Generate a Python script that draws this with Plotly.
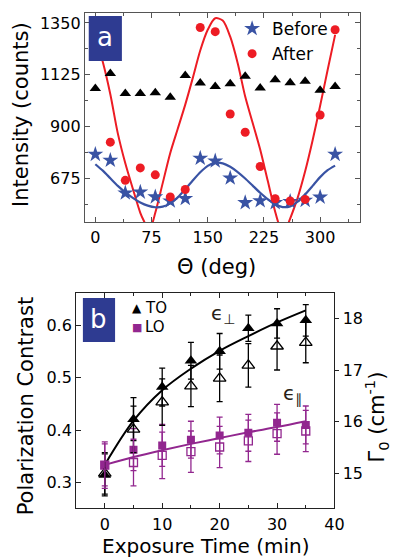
import plotly.graph_objects as go

# ---------------- Panel a data ----------------
theta = [0, 20, 40, 60, 80, 100, 120, 140, 160, 180, 200, 220, 240, 260, 280, 300, 320]
before = [779, 753, 611, 615, 594, 576, 587, 762, 750, 676, 569, 577, 569, 574, 579, 593, 779]
theta_after = [20, 40, 60, 80, 100, 120, 140, 160, 180, 200, 220, 240, 260, 280, 300, 320]
after = [832, 666, 720, 690, 594, 626, 1330, 1312, 954, 875, 726, 586, 576, 583, 950, 1320]
reference_tri = [1065, 1130, 1043, 1043, 1047, 1027, 1121, 1089, 1074, 1086, 1118, 1067, 1103, 1090, 1096, 1057, 1074]

red_fit_theta = [0, 10, 20, 30, 40, 50, 60, 65, 70, 75, 80, 90, 100, 110, 120, 130, 140, 150, 160,
                 170, 180, 190, 200, 210, 220, 230, 240, 245, 250, 255, 260, 270, 280, 290, 300, 310, 320]
red_fit_vals = [1290, 1180, 1040, 870, 740, 630, 525, 488, 458, 472, 525, 655, 785, 890, 995, 1110, 1230, 1320, 1370,
                1360, 1290, 1175, 1030, 915, 800, 665, 530, 475, 445, 460, 500, 590, 705, 840, 990, 1145, 1298]
blue_fit_theta = [0, 10, 20, 30, 40, 50, 60, 70, 80, 90, 100, 110, 120, 130, 140, 150, 160, 170, 180,
                  190, 200, 210, 220, 230, 240, 250, 260, 270, 280, 290, 300, 310, 320]
blue_fit_vals = [736, 708, 675, 642, 614, 590, 570, 556, 549, 552, 566, 592, 627, 665, 701, 729, 742, 740, 725,
                 702, 674, 643, 612, 584, 562, 550, 553, 573, 605, 642, 680, 710, 730]
a_xticks = [0, 75, 150, 225, 300]
a_yticks = [675, 900, 1125, 1350]

# ---------------- Panel b data ----------------
t = [0, 5, 10, 15, 20, 25, 30, 35]
to_contrast = [0.315, 0.421, 0.482, 0.532, 0.550, 0.594, 0.603, 0.609]
to_contrast_err = [0.04, 0.041, 0.036, 0.035, 0.034, 0.025, 0.028, 0.030]
to_gamma = [15.0, 15.85, 16.38, 16.69, 16.84, 17.09, 17.46, 17.53]
to_gamma_err = [0.4, 0.45, 0.45, 0.4, 0.45, 0.42, 0.46, 0.39]
lo_contrast = [0.334, 0.363, 0.371, 0.382, 0.390, 0.395, 0.414, 0.410]
lo_contrast_err = [0.04, 0.04, 0.04, 0.035, 0.035, 0.035, 0.035, 0.036]
lo_gamma = [15.16, 15.21, 15.35, 15.42, 15.51, 15.63, 15.77, 15.82]
lo_gamma_err = [0.45, 0.45, 0.45, 0.4, 0.4, 0.4, 0.4, 0.4]
to_fit = [0.334, 0.418, 0.476, 0.517, 0.551, 0.579, 0.605, 0.628]
lo_fit = [0.334, 0.349, 0.362, 0.374, 0.385, 0.396, 0.406, 0.417]
b_yticks_left = [0.3, 0.4, 0.5, 0.6]
b_yticks_right = [15, 16, 17, 18]

# ---------------- styling ----------------
FONT = "DejaVu Sans"
RED = "#ED1C24"
BLUE = "#3953A4"
PURPLE = "#92278F"
NAVY = "#2E3B91"
W, H = 403, 558


def px(x):
    return x / W


def py(y):
    return 1 - y / H


fig = go.Figure()

# panel a
fig.add_trace(go.Scatter(x=red_fit_theta, y=red_fit_vals, mode="lines",
                         line=dict(color=RED, width=2, shape="spline", smoothing=0.8),
                         showlegend=False, xaxis="x", yaxis="y"))
fig.add_trace(go.Scatter(x=blue_fit_theta, y=blue_fit_vals, mode="lines",
                         line=dict(color=BLUE, width=2.2, shape="spline", smoothing=0.6),
                         showlegend=False, xaxis="x", yaxis="y"))
fig.add_trace(go.Scatter(x=theta, y=reference_tri, mode="markers",
                         marker=dict(symbol="triangle-up", size=10, color="black"),
                         showlegend=False, xaxis="x", yaxis="y"))
fig.add_trace(go.Scatter(x=theta, y=before, mode="markers", name="Before",
                         marker=dict(symbol="star", size=12, color=BLUE),
                         xaxis="x", yaxis="y", legend="legend"))
fig.add_trace(go.Scatter(x=theta_after, y=after, mode="markers", name="After",
                         marker=dict(symbol="circle", size=9, color=RED),
                         xaxis="x", yaxis="y", legend="legend"))

# panel b
fig.add_trace(go.Scatter(x=t, y=to_fit, mode="lines", line=dict(color="black", width=2, shape="spline"),
                         showlegend=False, xaxis="x2", yaxis="y2"))
fig.add_trace(go.Scatter(x=t, y=lo_fit, mode="lines", line=dict(color=PURPLE, width=2, shape="spline"),
                         showlegend=False, xaxis="x2", yaxis="y2"))
fig.add_trace(go.Scatter(x=t, y=to_gamma, mode="markers",
                         marker=dict(symbol="triangle-up-open", size=11, color="black", line=dict(width=1.3)),
                         error_y=dict(type="data", array=to_gamma_err, color="black", thickness=1.3, width=3),
                         showlegend=False, xaxis="x2", yaxis="y3"))
fig.add_trace(go.Scatter(x=t, y=lo_gamma, mode="markers",
                         marker=dict(symbol="square-open", size=8, color=PURPLE, line=dict(width=1.3)),
                         error_y=dict(type="data", array=lo_gamma_err, color=PURPLE, thickness=1.3, width=3),
                         showlegend=False, xaxis="x2", yaxis="y3"))
fig.add_trace(go.Scatter(x=t, y=to_contrast, mode="markers", name="TO",
                         marker=dict(symbol="triangle-up", size=11, color="black"),
                         error_y=dict(type="data", array=to_contrast_err, color="black", thickness=1.3, width=3),
                         showlegend=False, xaxis="x2", yaxis="y2"))
fig.add_trace(go.Scatter(x=t, y=lo_contrast, mode="markers", name="LO",
                         marker=dict(symbol="square", size=8, color=PURPLE),
                         error_y=dict(type="data", array=lo_contrast_err, color=PURPLE, thickness=1.3, width=3),
                         showlegend=False, xaxis="x2", yaxis="y2"))

tickfont = dict(family=FONT, size=16, color="black")
common = dict(showgrid=False, zeroline=False, showline=True, linewidth=1, tickfont=tickfont,
              ticks="inside", ticklen=5, tickwidth=1)

fig.update_layout(
    width=W, height=H, autosize=False,
    margin=dict(l=0, r=0, t=0, b=0),
    paper_bgcolor="white", plot_bgcolor="white",
    font=dict(family=FONT, color="black"),
    xaxis=dict(domain=[px(87), px(369)], range=[-14, 353], anchor="y", tickvals=a_xticks,
               mirror="ticks", linecolor="#555", tickcolor="#555", ticklabelstandoff=1,
               minor=dict(tickvals=[37.5, 112.5, 187.5, 262.5, 337.5], ticks="inside", ticklen=3, tickcolor="#555"),
               **common),
    yaxis=dict(domain=[py(222), py(13)], range=[485, 1393], anchor="x", tickvals=a_yticks,
               mirror="ticks", linecolor="#555", tickcolor="#555",
               minor=dict(tickvals=[562.5, 787.5, 1012.5, 1237.5], ticks="inside", ticklen=3, tickcolor="#555"),
               **common),
    xaxis2=dict(domain=[px(78), px(343)], range=[-5, 40], anchor="y2", tickvals=[0, 10, 20, 30, 40],
                mirror="ticks", linecolor="#222", tickcolor="#222", ticklabelstandoff=2,
                minor=dict(tickvals=[5, 15, 25, 35], ticks="inside", ticklen=3, tickcolor="#222"),
                **common),
    yaxis2=dict(domain=[py(508), py(293)], range=[0.252, 0.661], anchor="x2", tickvals=b_yticks_left,
                mirror=True, linecolor="#222", tickcolor="#222", **common),
    yaxis3=dict(range=[14.33, 18.49], overlaying="y2", side="right", anchor="x2", tickvals=b_yticks_right,
                showgrid=False, zeroline=False, showline=True, linecolor="#222", tickfont=tickfont,
                ticks="outside", ticklen=4, tickcolor="#222"),
    legend=dict(x=px(238), y=py(11), xanchor="left", yanchor="top", bgcolor="rgba(0,0,0,0)",
                font=dict(family=FONT, size=17, color="black"), itemwidth=30, tracegroupgap=0),
    showlegend=True,
)

# panel labels (boxes)
fig.add_shape(type="rect", xref="paper", yref="paper", x0=px(91), x1=px(125), y0=py(61), y1=py(16),
              fillcolor=NAVY, line=dict(width=0), layer="above")
fig.add_shape(type="rect", xref="paper", yref="paper", x0=px(85), x1=px(118), y0=py(342), y1=py(298),
              fillcolor=NAVY, line=dict(width=0), layer="above")

annotations = [
    dict(text="a", x=px(108), y=py(37), font=dict(size=26, color="white")),
    dict(text="b", x=px(101.5), y=py(319), font=dict(size=26, color="white")),
    dict(text="Intensity (counts)", x=px(22), y=py(114.5), textangle=-90, font=dict(size=21)),
    dict(text="Θ (deg)", x=px(222), y=py(267), font=dict(size=21)),
    dict(text="Polarization Contrast", x=px(27), y=py(406), textangle=-90, font=dict(size=21)),
    dict(text="Exposure Time (min)", x=px(211), y=py(546), font=dict(size=20)),
    dict(text="Γ<sub>0</sub> (cm<sup>-1</sup>)", x=px(386), y=py(417), textangle=-90, font=dict(size=21)),
    dict(text="ϵ<sub>⊥</sub>", x=px(229), y=py(314), font=dict(size=20, color="#2a1f18")),
    dict(text="ϵ<sub>∥</sub>", x=px(300), y=py(394), font=dict(size=20, color="#2a1f18")),
    dict(text="▲", x=px(140), y=py(308), font=dict(size=12, color="black")),
    dict(text="TO", x=px(147), y=py(308), xanchor="left", font=dict(size=15)),
    dict(text="■", x=px(140), y=py(327), font=dict(size=11, color=PURPLE)),
    dict(text="LO", x=px(147), y=py(327), xanchor="left", font=dict(size=15)),
]
for a in annotations:
    a.setdefault("xanchor", "center")
    a.update(xref="paper", yref="paper", showarrow=False, yanchor="middle")
    a["font"].setdefault("family", FONT)
    a["font"].setdefault("color", "black")
    fig.add_annotation(**a)

fig.write_html("out.html", config={"displayModeBar": False},
               post_script="document.body.style.margin='0';document.body.style.overflow='hidden';")
